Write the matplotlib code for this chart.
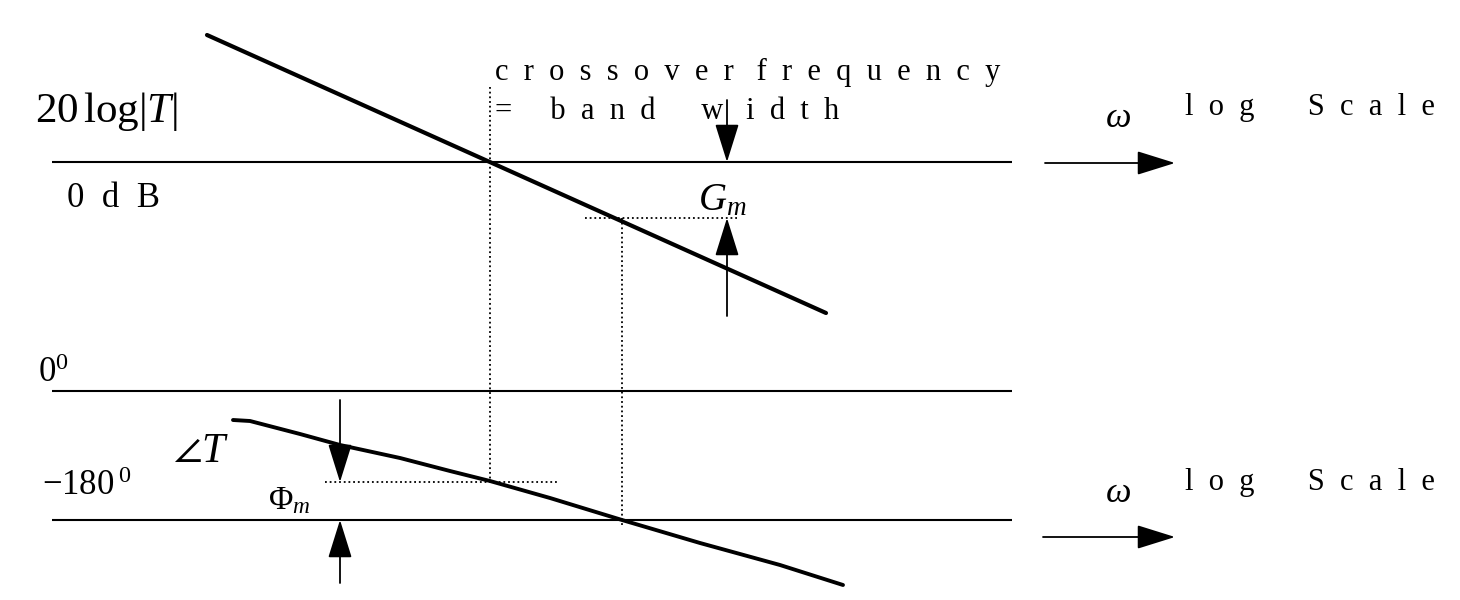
import matplotlib
matplotlib.use("Agg")
import matplotlib.pyplot as plt

plt.rcParams["font.family"] = ["Liberation Serif", "DejaVu Serif"]
plt.rcParams["mathtext.fontset"] = "custom"
plt.rcParams["mathtext.rm"] = "Liberation Serif"
plt.rcParams["mathtext.it"] = "Liberation Serif:italic"
plt.rcParams["mathtext.bf"] = "Liberation Serif:bold"
plt.rcParams["mathtext.fallback"] = "stix"

# sketch coordinates: x grows with log(omega), y grows downward
ref_span = [52, 1012]
gain_zero_y = 162        # 0 dB
phase_zero_y = 391       # 0 deg
phase_180_y = 520        # -180 deg

gain_x = [207, 826]
gain_y = [35, 313]

phase_x = [233, 250, 300, 340, 400, 450, 490, 550, 622, 700, 780, 843]
phase_y = [420, 421, 434, 445, 458, 471, 481, 498, 520, 543, 565, 585]

w_crossover = 490        # |T| = 0 dB
w_phase180 = 622         # angle T = -180 deg
gain_at_180 = 218
phase_at_cross = 482

INK = "black"


def arrow(ax, start, end):
    ax.annotate("", xy=end, xytext=start,
                arrowprops=dict(arrowstyle="-|>,head_length=2.4,head_width=0.75",
                                mutation_scale=10, lw=1.3, color=INK,
                                shrinkA=0, shrinkB=0))


fig = plt.figure(figsize=(14.6, 6), dpi=100)
ax = fig.add_axes([0, 0, 1, 1])
ax.set_xlim(0, 1460)
ax.set_ylim(600, 0)
ax.axis("off")

# reference levels
for level in (gain_zero_y, phase_zero_y, phase_180_y):
    ax.plot(ref_span, [level, level], color=INK, lw=1.5, solid_capstyle="butt")

# asymptotic gain and phase curves
ax.plot(gain_x, gain_y, color=INK, lw=3.0, solid_capstyle="round")
ax.plot(phase_x, phase_y, color=INK, lw=2.8, solid_capstyle="round")

# projection lines for the margins
dots = dict(color=INK, lw=1.3, ls=(0, (1, 1.6)))
ax.plot([w_crossover, w_crossover], [87, phase_at_cross], **dots)
ax.plot([w_phase180, w_phase180], [gain_at_180, 526], **dots)
ax.plot([585, 737], [gain_at_180, gain_at_180], **dots)
ax.plot([325, 557], [phase_at_cross, phase_at_cross], **dots)

# gain margin arrows
arrow(ax, (727, 100), (727, gain_zero_y))
arrow(ax, (727, 316), (727, gain_at_180))
# phase margin arrows
arrow(ax, (340, 400), (340, phase_at_cross))
arrow(ax, (340, 583), (340, phase_180_y))
# frequency axis arrows
arrow(ax, (1045, 163), (1175, 163))
arrow(ax, (1043, 537), (1175, 537))

# labels
ax.text(35, 122, r"$20\,\log|T|$", fontsize=31)
ax.text(67, 207, "0  d  B", fontsize=25)
ax.text(38, 382, r"$0^0$", fontsize=25)
ax.text(42, 495, r"$-180\,^0$", fontsize=25)
ax.text(173, 462, r"$\angle T$", fontsize=30)
ax.text(268, 509, r"$\Phi_m$", fontsize=24)
ax.text(698, 210, r"$G_m$", fontsize=28)

ax.text(495, 80, "c  r  o  s  s  o  v  e  r   f  r  e  q  u  e  n  c  y",
        fontsize=22)
ax.text(495, 119, "=     b  a  n  d      w   i  d  t  h", fontsize=22)

for y_base in (115, 490):
    ax.text(1106, y_base + 12, "ω", fontsize=26, style="italic")
    ax.text(1185, y_base, "l  o  g       S  c  a  l  e", fontsize=22)

fig.savefig("out.png", dpi=100, facecolor="white")
